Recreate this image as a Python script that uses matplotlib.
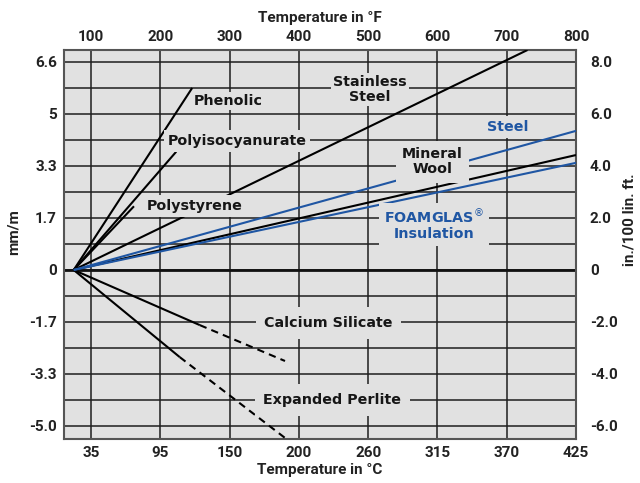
import matplotlib.pyplot as plt

# temperature axis (deg F) and matching deg C labels
temp_f = [100, 200, 300, 400, 500, 600, 700, 800]
temp_c_labels = ["35", "95", "150", "200", "260", "315", "370", "425"]

# expansion axis ticks (in./100 lin. ft.) and matching mm/m labels
inch_ticks = [-6, -4, -2, 0, 2, 4, 6, 8]
inch_labels = ["-6.0", "-4.0", "-2.0", "0", "2.0", "4.0", "6.0", "8.0"]
mm_labels = ["-5.0", "-3.3", "-1.7", "0", "1.7", "3.3", "5", "6.6"]

# each material: line from reference temperature to end point (deg F, in./100 ft)
ref_temp = 75
phenolic = [(ref_temp, 0), (246, 7.0)]
polyiso = [(ref_temp, 0), (223, 4.55)]
polystyrene = [(ref_temp, 0), (162, 2.45)]
stainless = [(ref_temp, 0), (730, 8.46)]
steel = [(ref_temp, 0), (800, 5.35)]
mineral_wool = [(ref_temp, 0), (800, 4.42)]
foamglas = [(ref_temp, 0), (800, 4.12)]
calsil_solid = [(ref_temp, 0), (257, -2.12)]
calsil_dash = [(257, -2.12), (380, -3.5)]
perlite_solid = [(ref_temp, 0), (228, -3.35)]
perlite_dash = [(228, -3.35), (382, -6.5)]

BG = "#e1e1e1"
BLUE = "#1f56a3"
INK = "#161616"

fig = plt.figure(figsize=(6.4, 4.83), dpi=100)
ax = fig.add_axes([0.1, 0.0911, 0.8, 0.8054])
ax.set_facecolor(BG)
ax.set_xlim(61, 800)
ax.set_ylim(-6.5, 8.46)

for x in temp_f[:-1]:
    ax.axvline(x, color="#1e1e1e", lw=1.1, zorder=1)
for y in range(-6, 9):
    ax.axhline(y, color="#1e1e1e", lw=1.1, zorder=1)
ax.axhline(0, color="#111111", lw=2, zorder=1.5)

for s in ax.spines.values():
    s.set_color("#555555")
    s.set_linewidth(1.5)


def draw(seg, color="black", ls="-"):
    xs, ys = zip(*seg)
    ax.plot(xs, ys, color=color, lw=1.5, ls=ls, zorder=3,
            solid_capstyle="butt", dashes=(3.5, 2.5) if ls == "--" else (None, None))


for seg in [phenolic, polyiso, polystyrene, stainless, mineral_wool,
            calsil_solid, perlite_solid]:
    draw(seg)
draw(steel, BLUE)
draw(foamglas, BLUE)
draw(calsil_dash, ls="--")
draw(perlite_dash, ls="--")


def box(pad):
    return dict(boxstyle=f"square,pad={pad}", fc=BG, ec="none")


lab = dict(fontsize=10.3, fontweight="bold", family="DejaVu Sans", zorder=4,
           va="center", linespacing=1.1)
ax.text(248, 6.5, "Phenolic", ha="left", color=INK, bbox=box(0.15), **lab)
ax.text(311, 4.96, "Polyisocyanurate", ha="center", color=INK, bbox=box(0.25), **lab)
ax.text(250, 2.46, "Polystyrene", ha="center", color=INK, bbox=box(0.3), **lab)
ax.text(503, 6.94, "Stainless\nSteel", ha="center", color=INK, bbox=box(0.15), **lab)
ax.text(702, 5.5, "Steel", ha="center", color=BLUE, bbox=box(0.3), **lab)
ax.text(593, 4.17, "Mineral\nWool", ha="center", color=INK, bbox=box(0.45), **lab)
ax.text(595, 1.75, "FOAMGLAS$^{\u00ae}$\nInsulation", ha="center", color=BLUE,
        bbox=box(0.35), **lab)
ax.text(443, -2.04, "Calcium Silicate", ha="center", color=INK, bbox=box(0.6), **lab)
ax.text(448, -5.0, "Expanded Perlite", ha="center", color=INK, bbox=box(0.6), **lab)

tick_font = dict(family="Roboto", fontweight="bold", fontsize=11, color="#222222")

ax.set_xticks(temp_f)
ax.set_xticklabels(temp_c_labels, **tick_font)
ax.set_yticks(inch_ticks)
ax.set_yticklabels(mm_labels, **tick_font)
ax.tick_params(length=0, pad=5)

top = ax.secondary_xaxis("top")
top.set_xticks(temp_f)
top.set_xticklabels([str(t) for t in temp_f], **tick_font)
top.tick_params(length=0, pad=4)
top.spines["top"].set_visible(False)

right = ax.secondary_yaxis("right")
right.set_yticks(inch_ticks)
right.set_yticklabels(inch_labels, **tick_font)
right.tick_params(length=0, pad=10)
right.spines["right"].set_visible(False)

title_font = dict(family="Roboto", fontweight="bold", fontsize=11, color="#222222")
fig.text(0.5, 0.963, "Temperature in \u00b0F", ha="center", va="center", **title_font)
fig.text(0.5, 0.027, "Temperature in \u00b0C", ha="center", va="center", **title_font)
fig.text(0.022, 0.52, "mm/m", rotation=90, ha="center", va="center", **title_font)
fig.text(0.984, 0.545, "in./100 lin. ft.", rotation=90, ha="center", va="center", **title_font)

fig.savefig("out.png", dpi=100, facecolor="white")
